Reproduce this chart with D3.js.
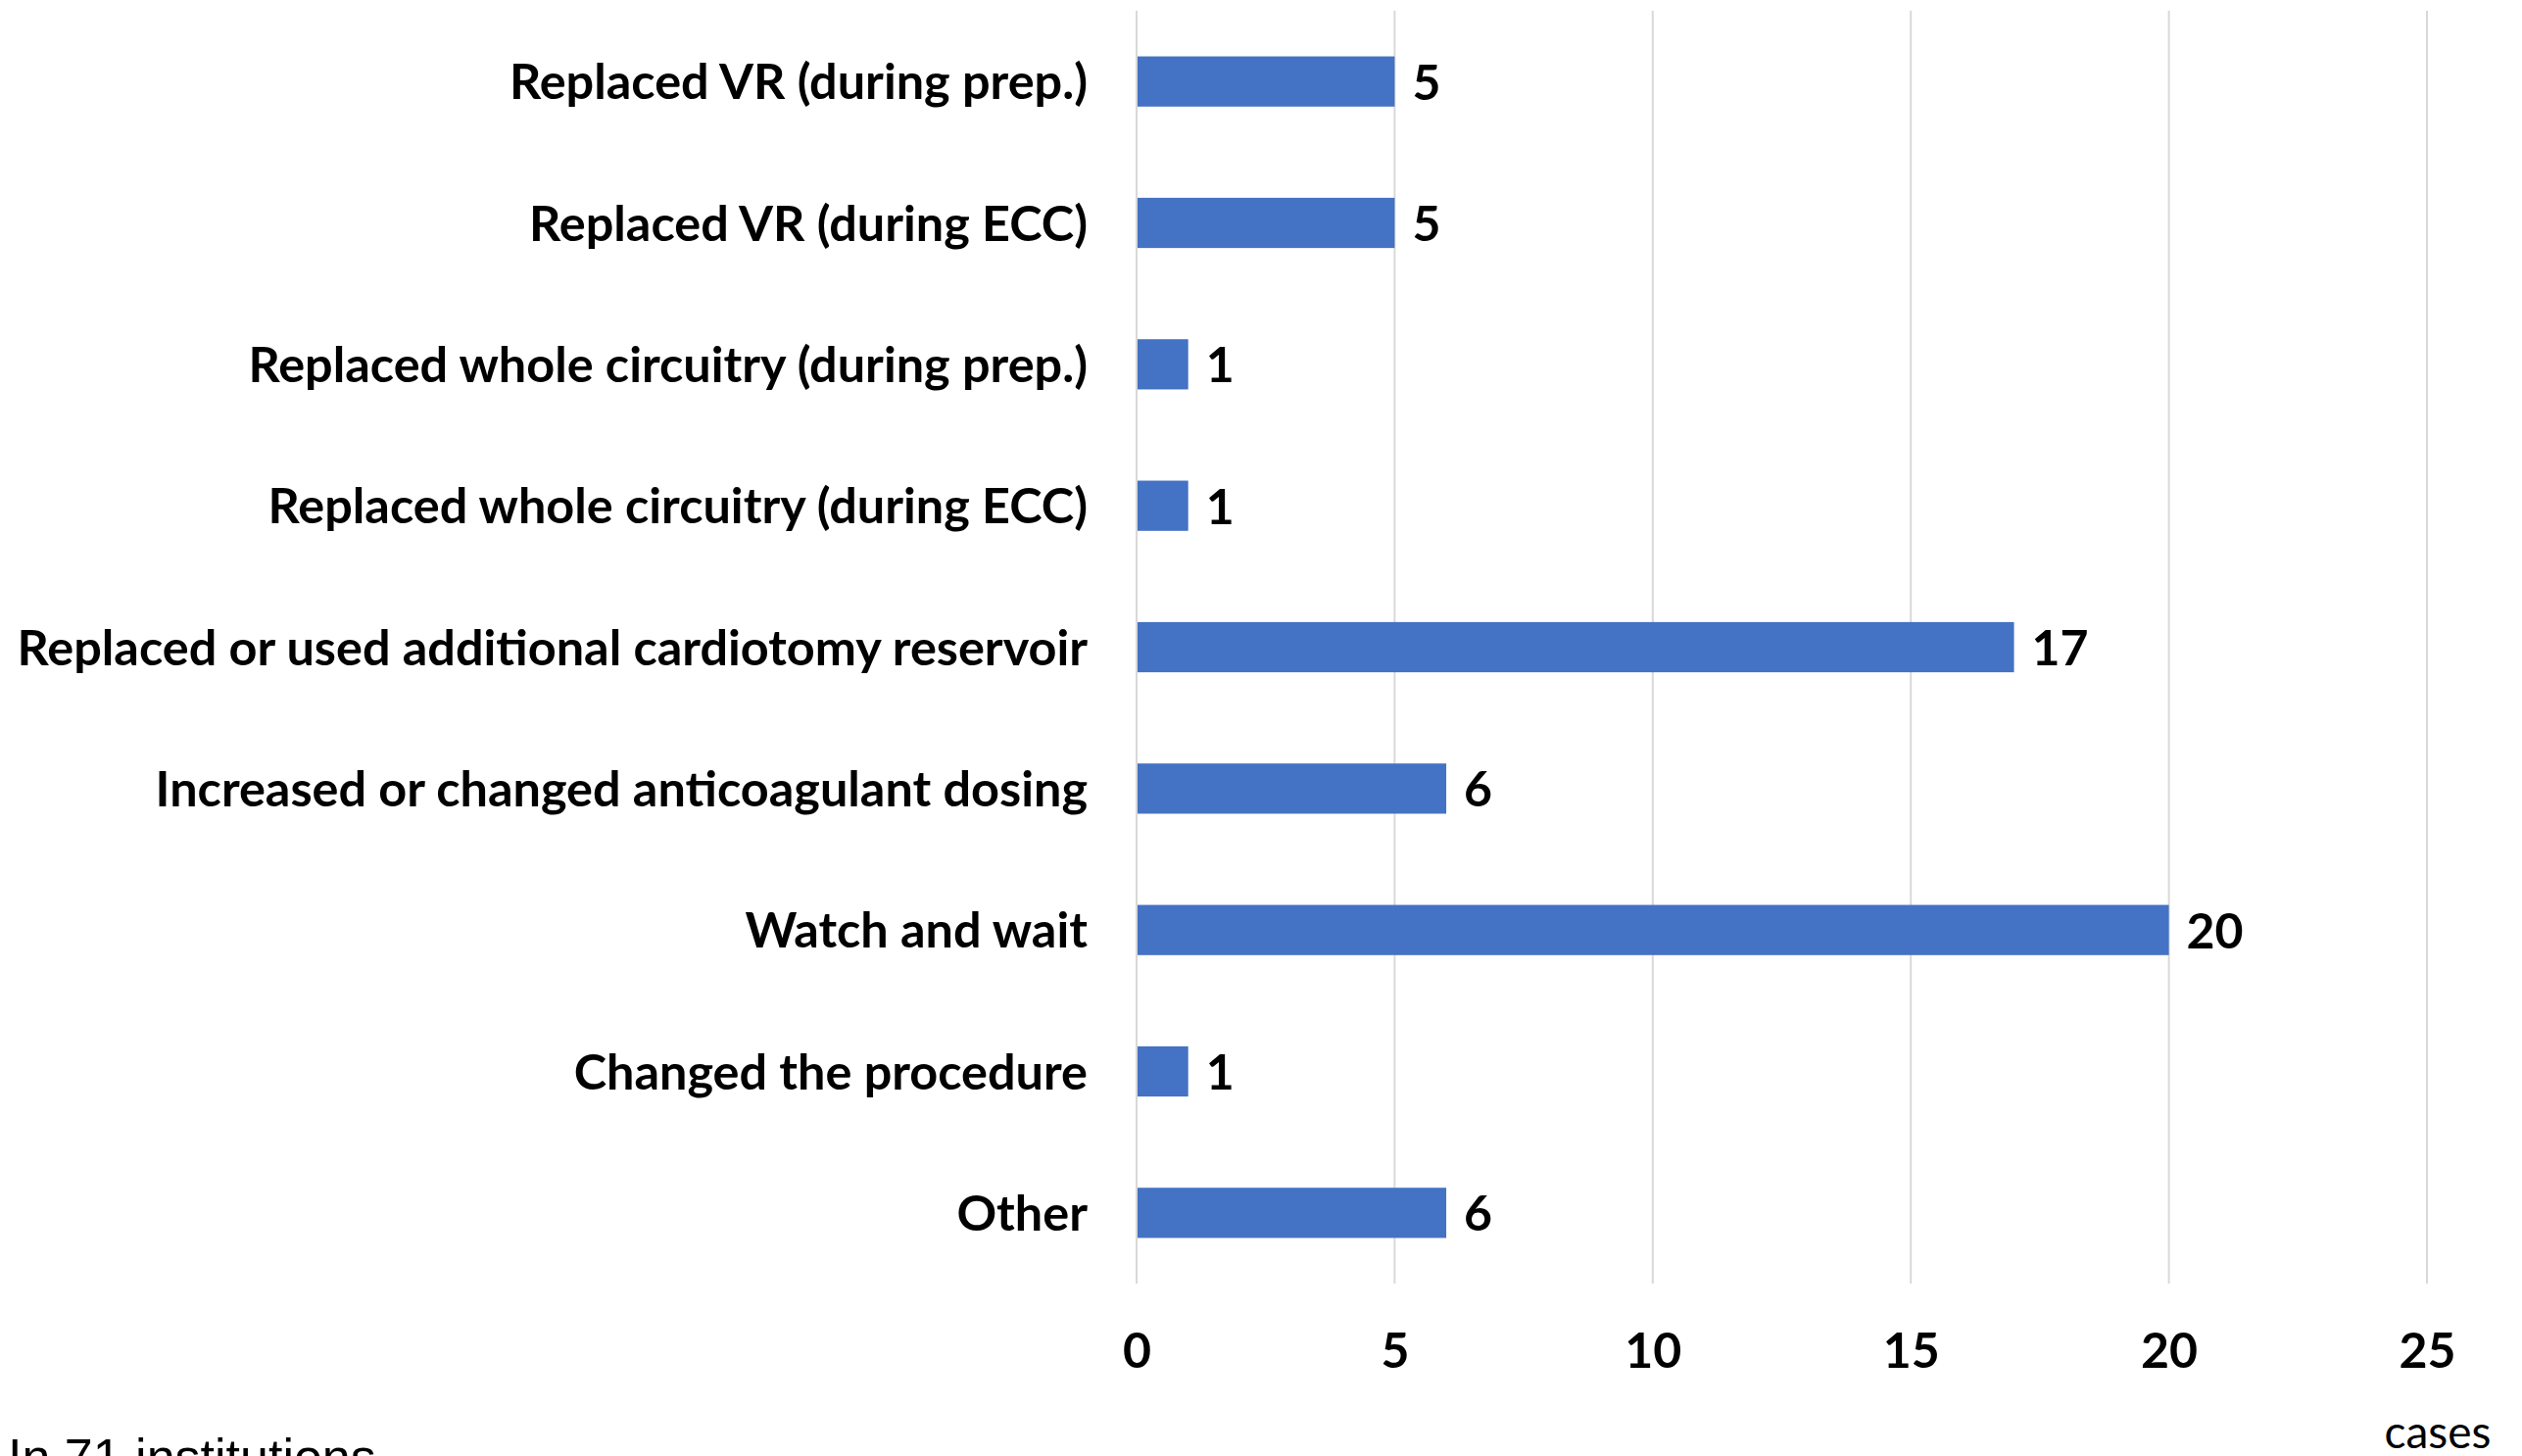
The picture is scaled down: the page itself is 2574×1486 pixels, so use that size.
<!DOCTYPE html>
<html>
<head>
<meta charset="utf-8">
<script src="https://cdn.jsdelivr.net/npm/d3@7"></script>
<style>
  html, body { margin: 0; padding: 0; background: #fff; overflow: hidden; }
  svg { display: block; }
</style>
</head>
<body>
<svg width="2574" height="1486"></svg>
<script>
const categories = [
  'Replaced VR (during prep.)',
  'Replaced VR (during ECC)',
  'Replaced whole circuitry (during prep.)',
  'Replaced whole circuitry (during ECC)',
  'Replaced or used additional cardiotomy reservoir',
  'Increased or changed anticoagulant dosing',
  'Watch and wait',
  'Changed the procedure',
  'Other'
]
const values = [5, 5, 1, 1, 17, 6, 20, 1, 6]
const xTicks = [0, 5, 10, 15, 20, 25]

const svg = d3.select('svg')
const labelFont = 'Lato, "Open Sans", sans-serif'

const x = d3.scaleLinear()
  .domain([0, 25])
  .range([1160, 2477])

const y = d3.scaleBand()
  .domain(categories)
  .range([11, 1310])
  .paddingInner(0.645)
  .paddingOuter(0.3225)

// gridlines
svg.append('g')
  .selectAll('line')
  .data(xTicks)
  .enter()
  .append('line')
  .attr('x1', d => x(d))
  .attr('x2', d => x(d))
  .attr('y1', 11)
  .attr('y2', 1310)
  .attr('stroke', '#d9d9d9')
  .attr('stroke-width', 2)

// bars
svg.append('g')
  .selectAll('rect')
  .data(values)
  .enter()
  .append('rect')
  .attr('x', x(0) + 1)
  .attr('y', (d, i) => y(categories[i]))
  .attr('width', d => x(d) - x(0) - 1)
  .attr('height', y.bandwidth())
  .attr('fill', '#4472c4')

// value labels
svg.append('g')
  .selectAll('text')
  .data(values)
  .enter()
  .append('text')
  .attr('x', d => x(d) + 18)
  .attr('y', (d, i) => y(categories[i]) + y.bandwidth() / 2)
  .attr('dy', '0.37em')
  .style('font-family', labelFont)
  .style('font-weight', 'bold')
  .style('font-size', '50px')
  .text(d => d)

// category labels
svg.append('g')
  .selectAll('text')
  .data(categories)
  .enter()
  .append('text')
  .attr('x', 1110)
  .attr('y', d => y(d) + y.bandwidth() / 2)
  .attr('dy', '0.36em')
  .attr('text-anchor', 'end')
  .style('font-family', labelFont)
  .style('font-weight', 'bold')
  .style('font-size', '50.4px')
  .text(d => d)

// x axis tick labels
const xAxis = d3.axisBottom(x)
  .tickValues(xTicks)
  .tickSize(0)
  .tickPadding(0)

const axisG = svg.append('g')
  .attr('transform', 'translate(0,1396)')
  .call(xAxis)

axisG.select('.domain').remove()
axisG.selectAll('text')
  .attr('dy', 0)
  .attr('y', 0)
  .attr('fill', '#000')
  .style('font-family', labelFont)
  .style('font-weight', 'bold')
  .style('font-size', '50px')

svg.append('text')
  .attr('x', 2488)
  .attr('y', 1478)
  .attr('text-anchor', 'middle')
  .style('font-family', labelFont)
  .style('font-size', '46px')
  .text('cases')

svg.append('text')
  .attr('x', 8)
  .attr('y', 1505)
  .style('font-family', '"Liberation Sans", Arial, sans-serif')
  .style('font-size', '52px')
  .text('In 71 institutions')
</script>
</body>
</html>
